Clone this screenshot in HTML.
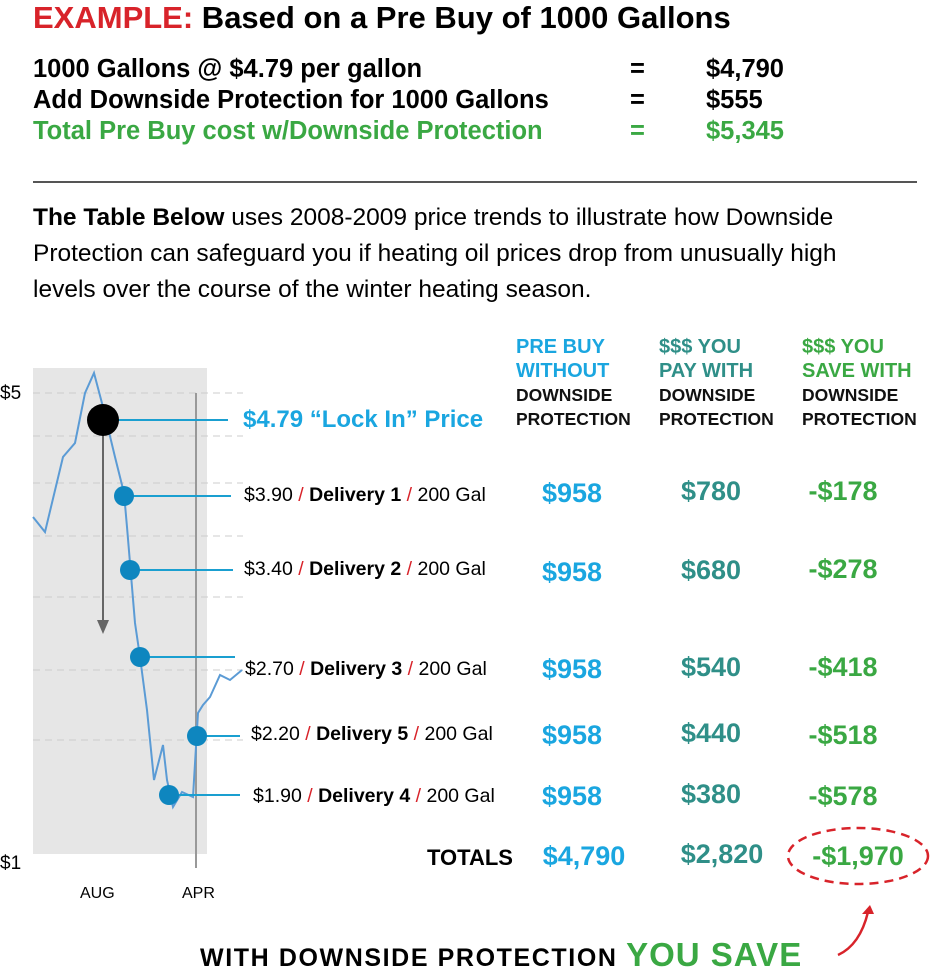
<!DOCTYPE html>
<html><head><style>
body{margin:0;width:933px;height:972px;background:#fff;position:relative;overflow:hidden;font-family:"Liberation Sans",sans-serif;}
.a{position:absolute;white-space:nowrap;}
.b{font-weight:bold;}
.h{font-size:25.5px;font-weight:bold;line-height:31px;}
.g{color:#3aa843;}
.c{color:#1aa6e0;}
.t{color:#2f8f88;}
.r{color:#d8232a;}
.v{font-size:27px;font-weight:bold;transform:translateX(-50%);}
.lab{font-size:19.5px;}
.th{font-size:20px;font-weight:bold;line-height:24px;}
.th2{font-size:17.5px;font-weight:bold;line-height:24px;color:#111;}
</style></head><body>
<div class="a b" style="left:33px;top:0px;font-size:31px;"><span class="r">EXAMPLE:</span> Based on a Pre Buy of 1000 Gallons</div>
<div class="a h" style="left:33px;top:54px;">1000 Gallons @ $4.79 per gallon</div>
<div class="a h" style="left:33px;top:85px;">Add Downside Protection for 1000 Gallons</div>
<div class="a h g" style="left:33px;top:116px;">Total Pre Buy cost w/Downside Protection</div>
<div class="a h" style="left:630px;top:54px;">=</div><div class="a h" style="left:630px;top:85px;">=</div><div class="a h g" style="left:630px;top:116px;">=</div>
<div class="a h" style="left:706px;top:54px;">$4,790</div><div class="a h" style="left:706px;top:85px;">$555</div><div class="a h g" style="left:706px;top:116px;">$5,345</div>
<div class="a" style="left:33px;top:181px;width:884px;height:2px;background:#555;"></div>
<div class="a" style="left:33px;top:200px;font-size:24.5px;line-height:36px;white-space:normal;width:880px;"><b>The Table Below</b> uses 2008-2009 price trends to illustrate how Downside<br>Protection can safeguard you if heating oil prices drop from unusually high<br>levels over the course of the winter heating season.</div>

<svg class="a" style="left:0;top:0" width="933" height="972">
<rect x="33" y="368" width="174" height="486" fill="#e6e6e6"/>
<g stroke="#ccc" stroke-dasharray="7,5" stroke-width="1">
<line x1="33" y1="393" x2="243" y2="393"/><line x1="33" y1="436" x2="243" y2="436"/><line x1="33" y1="483" x2="243" y2="483"/><line x1="33" y1="536" x2="243" y2="536"/><line x1="33" y1="597" x2="243" y2="597"/><line x1="33" y1="670" x2="243" y2="670"/><line x1="33" y1="740" x2="243" y2="740"/>
</g>
<line x1="196" y1="393" x2="196" y2="868" stroke="#999" stroke-width="2"/>
<polyline fill="none" stroke="#5b9bd5" stroke-width="2" points="33,517 45,532 63,457 75,443 85,393 94,373 103,407 115,457 124,493 127,527 130,563 135,623 140,657 147,710 154,780 163,745 167,780 173,807 182,792 193,797 198,713 203,705 210,697 220,675 230,680 242,670"/>
<line x1="103" y1="420" x2="103" y2="622" stroke="#666" stroke-width="2"/>
<polygon points="97,620 109,620 103,634" fill="#666"/>
<g stroke="#1a9fd0" stroke-width="2">
<line x1="103" y1="420" x2="228" y2="420"/><line x1="124" y1="496" x2="231" y2="496"/><line x1="130" y1="570" x2="233" y2="570"/><line x1="140" y1="657" x2="235" y2="657"/><line x1="197" y1="736" x2="240" y2="736"/><line x1="169" y1="795" x2="240" y2="795"/>
</g>
<circle cx="103" cy="420" r="16" fill="#000"/>
<g fill="#0e86bf"><circle cx="124" cy="496" r="10"/><circle cx="130" cy="570" r="10"/><circle cx="140" cy="657" r="10"/><circle cx="197" cy="736" r="10"/><circle cx="169" cy="795" r="10"/></g>
<ellipse cx="858" cy="856" rx="70" ry="28" fill="none" stroke="#d8232a" stroke-width="2.5" stroke-dasharray="9,6"/>
<path d="M838,955 Q860,945 868,912" fill="none" stroke="#d8232a" stroke-width="2.5"/>
<polygon points="862,914 874,914 870,905" fill="#d8232a"/>
</svg>
<div class="a" style="left:0;top:383px;font-size:19px;">$5</div>
<div class="a" style="left:0;top:853px;font-size:19px;">$1</div>
<div class="a" style="left:80px;top:885px;font-size:16px;">AUG</div>
<div class="a" style="left:182px;top:885px;font-size:16px;">APR</div>
<div class="a b c" style="left:243px;top:406px;font-size:24px;">$4.79 “Lock In” Price</div>
<div class="a lab" style="left:244px;top:484px;">$3.90 <span class="r">/</span> <b>Delivery 1</b> <span class="r">/</span> 200 Gal</div>
<div class="a lab" style="left:244px;top:558px;">$3.40 <span class="r">/</span> <b>Delivery 2</b> <span class="r">/</span> 200 Gal</div>
<div class="a lab" style="left:245px;top:658px;">$2.70 <span class="r">/</span> <b>Delivery 3</b> <span class="r">/</span> 200 Gal</div>
<div class="a lab" style="left:251px;top:723px;">$2.20 <span class="r">/</span> <b>Delivery 5</b> <span class="r">/</span> 200 Gal</div>
<div class="a lab" style="left:253px;top:785px;">$1.90 <span class="r">/</span> <b>Delivery 4</b> <span class="r">/</span> 200 Gal</div>
<div class="a" style="left:516px;top:335px;"><div class="th c">PRE BUY<br>WITHOUT</div><div class="th2">DOWNSIDE<br>PROTECTION</div></div>
<div class="a" style="left:659px;top:335px;"><div class="th t">$$$ YOU<br>PAY WITH</div><div class="th2">DOWNSIDE<br>PROTECTION</div></div>
<div class="a" style="left:802px;top:335px;"><div class="th g">$$$ YOU<br>SAVE WITH</div><div class="th2">DOWNSIDE<br>PROTECTION</div></div>
<div class="a v c" style="left:572px;top:478px;">$958</div><div class="a v t" style="left:711px;top:476px;">$780</div><div class="a v g" style="left:843px;top:476px;">-$178</div>
<div class="a v c" style="left:572px;top:557px;">$958</div><div class="a v t" style="left:711px;top:555px;">$680</div><div class="a v g" style="left:843px;top:554px;">-$278</div>
<div class="a v c" style="left:572px;top:654px;">$958</div><div class="a v t" style="left:711px;top:652px;">$540</div><div class="a v g" style="left:843px;top:652px;">-$418</div>
<div class="a v c" style="left:572px;top:720px;">$958</div><div class="a v t" style="left:711px;top:718px;">$440</div><div class="a v g" style="left:843px;top:720px;">-$518</div>
<div class="a v c" style="left:572px;top:781px;">$958</div><div class="a v t" style="left:711px;top:779px;">$380</div><div class="a v g" style="left:843px;top:781px;">-$578</div>
<div class="a b" style="left:427px;top:845px;font-size:22px;">TOTALS</div>
<div class="a v c" style="left:584px;top:841px;">$4,790</div><div class="a v t" style="left:722px;top:839px;">$2,820</div><div class="a v g" style="left:858px;top:841px;">-$1,970</div>
<div class="a b" style="left:200px;top:936px;font-size:25px;letter-spacing:1.6px;">WITH DOWNSIDE PROTECTION <span class="g" style="font-size:33px;letter-spacing:1px;">YOU SAVE</span></div>
</body></html>
